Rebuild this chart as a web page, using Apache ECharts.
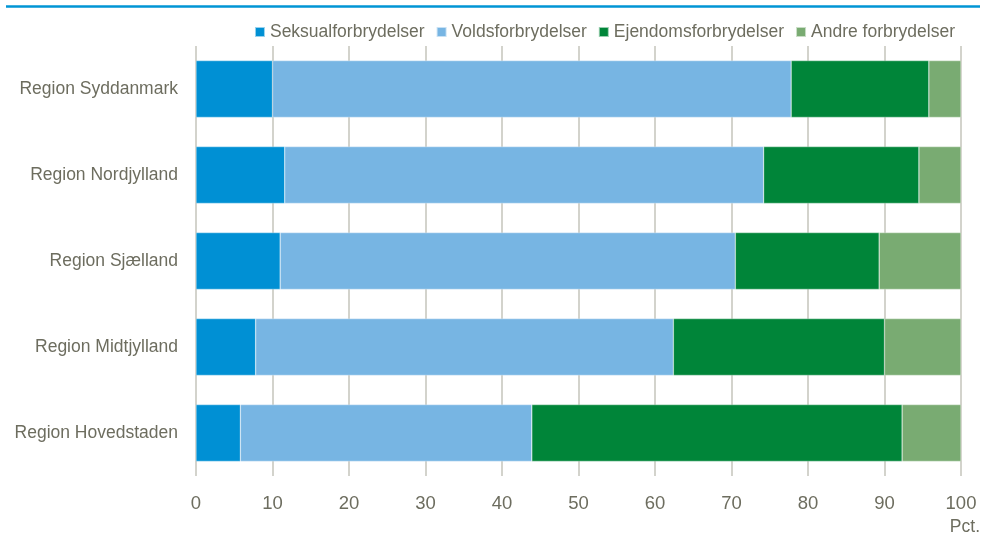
<!DOCTYPE html>
<html>
<head>
<meta charset="utf-8">
<script src="https://cdn.jsdelivr.net/npm/echarts@6/dist/echarts.min.js"></script>
<style>
  html, body { margin: 0; padding: 0; background: #fff; }
  #chart { width: 982px; height: 535px; }
</style>
</head>
<body>
<div id="chart"></div>
<script>
const regions = ['Region Syddanmark', 'Region Nordjylland', 'Region Sjælland', 'Region Midtjylland', 'Region Hovedstaden'];
const seksual = [10.0, 11.6, 11.0, 7.8, 5.8];
const volds = [67.8, 62.6, 59.5, 54.6, 38.1];
const ejendom = [18.0, 20.3, 18.8, 27.6, 48.4];
const andre = [4.2, 5.5, 10.7, 10.0, 7.7];
const seriesNames = ['Seksualforbrydelser', 'Voldsforbrydelser', 'Ejendomsforbrydelser', 'Andre forbrydelser'];

const textColor = '#6d6d5f';
const font = '"Liberation Sans", Arial, sans-serif';

const chart = echarts.init(document.getElementById('chart'));

const makeSeries = (name, data) => ({
  name: name,
  type: 'bar',
  stack: 'total',
  barWidth: '66%',
  itemStyle: { borderColor: 'rgba(255,255,255,0.6)', borderWidth: 0.5 },
  data: data
});

chart.setOption({
  animation: false,
  backgroundColor: '#fff',
  color: ['#0090d4', '#77b5e3', '#008539', '#79ab72'],
  textStyle: { fontFamily: font },
  legend: {
    data: seriesNames,
    top: 18,
    right: 22,
    icon: 'rect',
    itemWidth: 10,
    itemHeight: 10,
    itemGap: 11,
    textStyle: { color: textColor, fontSize: 17.5, fontFamily: font }
  },
  grid: {
    left: 196,
    right: 21,
    top: 46,
    bottom: 59
  },
  xAxis: {
    type: 'value',
    min: 0,
    max: 100,
    interval: 10,
    axisLine: { show: false },
    axisTick: { show: false },
    splitLine: { lineStyle: { color: '#c5c5bb', width: 1.5 } },
    axisLabel: { color: textColor, fontSize: 18.5, margin: 18, fontFamily: font }
  },
  yAxis: {
    type: 'category',
    inverse: true,
    data: regions,
    axisLine: { show: false },
    axisTick: { show: false },
    axisLabel: { color: textColor, fontSize: 17.5, margin: 18, fontFamily: font }
  },
  graphic: [
    {
      type: 'line',
      shape: { x1: 6, y1: 6.5, x2: 980, y2: 6.5 },
      style: { stroke: '#0095d5', lineWidth: 2.5 }
    },
    {
      type: 'text',
      right: 2,
      top: 518,
      style: { text: 'Pct.', fill: textColor, fontSize: 17.5, fontFamily: font }
    }
  ],
  series: [
    makeSeries(seriesNames[0], seksual),
    makeSeries(seriesNames[1], volds),
    makeSeries(seriesNames[2], ejendom),
    makeSeries(seriesNames[3], andre)
  ]
});
</script>
</body>
</html>
